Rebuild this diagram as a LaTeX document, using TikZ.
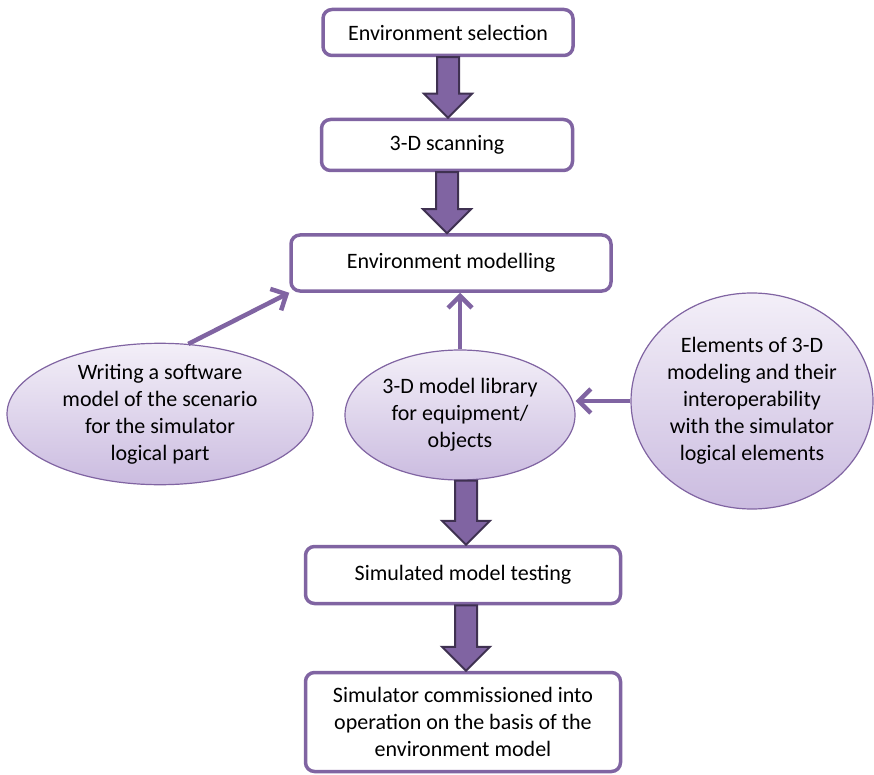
\documentclass[tikz,border=0pt]{standalone}
\usepackage{fontspec}
\setmainfont{Carlito}
\usetikzlibrary{arrows.meta,shapes.geometric,calc}

\definecolor{accent}{HTML}{8064A2}
\definecolor{accentdark}{HTML}{3F3151}
\definecolor{bubbletop}{HTML}{F3EFF8}
\definecolor{bubblebot}{HTML}{CBBCE0}

\begin{document}
\begin{tikzpicture}[x=1pt,y=-1pt,
    font=\fontsize{22}{27}\selectfont,
    stagebox/.style={draw=accent, line width=3.5pt, rounded corners=9pt, fill=white, align=center, inner sep=2pt},
    bubble/.style={ellipse, draw=accent, line width=1.2pt, top color=bubbletop, bottom color=bubblebot, align=center, inner sep=0pt},
    link/.style={draw=accent, line width=4.5pt, -{Straight Barb[length=12pt,width=24pt]}},
    fat/.style={draw=accentdark, fill=accent, line width=2pt, line join=miter,
      to path={let \p1=(\tikztostart), \p2=(\tikztotarget) in
        (\x1-11pt,\y1) -- (\x1-11pt,\y2+24pt) -- (\x1-24pt,\y2+24pt) -- (\x1,\y2)
        -- (\x1+24pt,\y2+24pt) -- (\x1+11pt,\y2+24pt) -- (\x1+11pt,\y1) -- cycle}},
    ]
    \useasboundingbox (0,0) rectangle (874,775);

    % Place nodes
    \node [stagebox, minimum width=250pt, minimum height=46pt] (sel) at (448,32.5) {Environment selection};
    \node [stagebox, minimum width=251pt, minimum height=51pt] (scan) at (447,145) {3-D scanning};
    \node [stagebox, minimum width=320pt, minimum height=56pt] (model) at (451,263) {Environment modelling};
    \node [stagebox, minimum width=315pt, minimum height=57pt] (test) at (463,575) {Simulated model testing};
    \node [stagebox, minimum width=315pt, minimum height=99pt] (comm) at (463,722)
      {Simulator commissioned into\\ operation on the basis of the\\ environment model};

    \node [bubble, minimum width=306pt, minimum height=138pt] (write) at (160,414)
      {Writing a software\\ model of the scenario\\ for the simulator\\ logical part};
    \node [bubble, minimum width=230pt, minimum height=130pt] (lib) at (460,415)
      {3-D model library\\ for equipment/\\ objects};
    \node [bubble, minimum width=242pt, minimum height=216pt] (elem) at (752,401)
      {Elements of 3-D\\ modeling and their\\ interoperability\\ with the simulator\\ logical elements};

    % Draw edges
    \draw [fat] (sel.south) to (scan.north);
    \draw [fat] (scan.south) to (model.north);
    \draw [fat] ([xshift=6pt]lib.south) to (test.north);
    \draw [fat] ([xshift=3pt]test.south) to (comm.north);

    \draw [link] (write.68) -- (model.south west);
    \draw [link] (lib.north) -- (lib.north |- model.south);
    \draw [link] (elem.west) -- (elem.west -| lib.east);
\end{tikzpicture}
\end{document}
